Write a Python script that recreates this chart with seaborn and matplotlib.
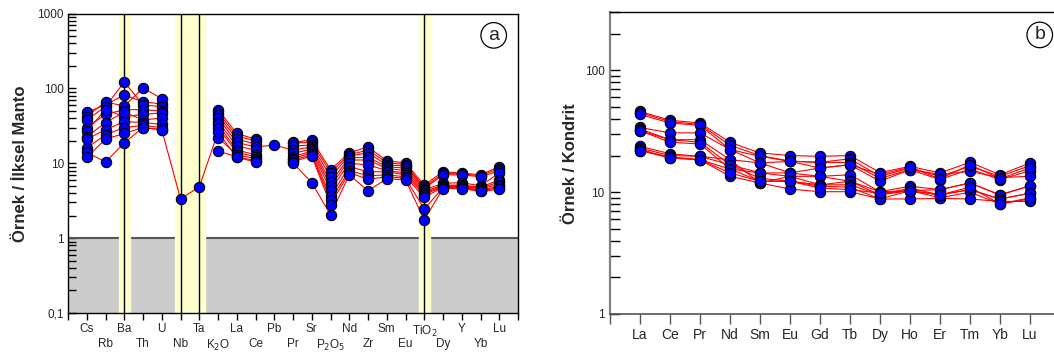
import numpy as np
import pandas as pd
import matplotlib
matplotlib.use("Agg")
import matplotlib.pyplot as plt
import matplotlib.ticker as mticker
import seaborn as sns

sns.set_style("white")
plt.rcParams['font.family'] = ['Liberation Sans', 'DejaVu Sans']

# --- primitive mantle normalised spider data (panel a) ---
pm_elements = ["Cs", "Rb", "Ba", "Th", "U", "Nb", "Ta", "K$_2$O", "La", "Ce", "Pb", "Pr",
               "Sr", "P$_2$O$_5$", "Nd", "Zr", "Sm", "Eu", "TiO$_2$", "Dy", "Y", "Yb", "Lu"]
nan = np.nan
pm_cs = [48, 42, 38, 30, 27, 22.5, 21, 16, 14, 12]
pm_rb = [60, 66, 57, 45, 52, 35, 28, 24, 10.4, 21]
pm_ba = [82, 58, 122, 52, 42, 48, 36, 30, 18.7, 25]
pm_th = [66, 101, 60, 52, 45, 38, 35, 32, 30, 30]
pm_u = [62, 73, 57, 50, 47, 40, 33, 30, 28, 28]
pm_nb = [nan, nan, nan, nan, nan, nan, nan, nan, nan, 3.35]
pm_ta = [nan, nan, nan, nan, nan, nan, nan, nan, nan, 4.8]
pm_k2o = [52, 48, 44, 40, 36, 33, 30, 22, 14.6, 26]
pm_la = [25, 23, 21, 19, 17, 15, 14, 13, 12.2, 12]
pm_ce = [21, 20, 18, 16.5, 15, 13, 12.2, 11.5, 10.8, 10.4]
pm_pb = [nan, nan, nan, 17.5, nan, nan, nan, nan, nan, nan]
pm_pr = [19, 18.7, 17, 15, 13.5, 12.2, 11.5, 11, 10.5, 10.1]
pm_sr = [20.5, 19, 17.5, 16.5, 15.5, 14.5, 13.8, 13, 12.5, 5.5]
pm_p2o5 = [8.2, 7.5, 6.6, 5.6, 5.0, 4.4, 3.6, 3.2, 2.8, 2.05]
pm_nd = [13.8, 13, 12.5, 11.8, 11, 10, 9, 8, 7.5, 7]
pm_zr = [16.5, 15, 13.8, 12, 11.1, 9.5, 7.7, 6.8, 6.1, 4.3]
pm_sm = [10.8, 10.2, 9.5, 9, 8.5, 8, 7.7, 7, 6.6, 6.2]
pm_eu = [10.1, 9.6, 9.2, 8.6, 8, 7.4, 7, 6.6, 6.3, 6]
pm_tio2 = [5.1, 4.8, 4.6, 4.4, 4.2, 4.0, 3.8, 3.5, 2.45, 1.75]
pm_dy = [7.7, 7.3, 7.0, 5.4, 5.1, 5.0, 4.9, 4.8, 4.7, 4.6]
pm_y = [7.4, 7.2, 7.0, 5.5, 5.1, 5.0, 4.9, 4.8, 4.7, 4.6]
pm_yb = [7.0, 6.8, 6.6, 5.0, 4.8, 4.7, 4.6, 4.4, 4.3, 4.2]
pm_lu = [9.0, 8.5, 7.9, 7.4, 6.0, 5.6, 5.2, 4.9, 4.7, 4.5]
pm_values = [pm_cs, pm_rb, pm_ba, pm_th, pm_u, pm_nb, pm_ta, pm_k2o, pm_la, pm_ce, pm_pb,
             pm_pr, pm_sr, pm_p2o5, pm_nd, pm_zr, pm_sm, pm_eu, pm_tio2, pm_dy, pm_y,
             pm_yb, pm_lu]
pm_yticks = [0.1, 1, 10, 100, 1000]
pm_yticklabels = ["0,1", "1", "10", "100", "1000"]
pm_bands = ["Ba", "Nb", "Ta", "TiO$_2$"]

# --- chondrite normalised REE data (panel b) ---
ree_elements = ["La", "Ce", "Pr", "Nd", "Sm", "Eu", "Gd", "Tb", "Dy", "Ho", "Er", "Tm", "Yb", "Lu"]
ree_samples = [
    [46, 39, 37, 25.7, 21, 20, 19.7, 20, 14.5, 16.3, 14.4, 17.6, 13.9, 17.4],
    [45, 38, 36, 24.3, 20, 18, 17.6, 18.8, 13.5, 15.8, 13.5, 16.3, 13.5, 16.5],
    [43.5, 37, 35.4, 22.4, 19.7, 17.9, 17.6, 17.5, 13.0, 15.3, 12.7, 15.5, 12.7, 15.0],
    [34, 30.7, 30.7, 22.4, 17.4, 17.9, 15.8, 16.8, 12.3, 15.3, 14.0, 14.8, 13.2, 13.5],
    [33, 27, 27, 18.5, 17.4, 14.4, 15.8, 16.8, 14.0, 16.0, 12.9, 16.8, 12.9, 15.8],
    [32, 27, 25.7, 16.8, 14.4, 13.5, 13.5, 13.9, 10.1, 11.2, 10.5, 11.9, 9.5, 11.3],
    [32, 25.7, 24.9, 15.5, 14.4, 14.4, 13.5, 12.3, 9.5, 10.3, 9.5, 10.5, 8.8, 9.8],
    [23.8, 20.7, 19.7, 18.5, 11.9, 13.5, 11.5, 12.3, 10.1, 10.3, 10.5, 11.9, 9.5, 11.3],
    [23, 20, 19.7, 16.8, 13.0, 12.3, 11.5, 11.5, 9.5, 10.8, 9.5, 10.5, 8.8, 9.8],
    [22.5, 19.1, 18.5, 15.5, 12.3, 12.3, 11.2, 11.0, 8.8, 10.3, 9.0, 10.0, 8.0, 8.8],
    [22, 19.5, 18.5, 13.5, 11.9, 10.6, 10.1, 10.1, 8.8, 8.8, 8.9, 8.8, 8.4, 8.4],
    [22, 19.1, 18.5, 14.4, 12.3, 12.3, 10.8, 10.5, 9.8, 10.3, 9.5, 11.0, 8.0, 9.0],
]
ree_yticks = [1, 10, 100]


def long_table(elements, matrix):
    # matrix: rows = samples, cols = elements; NaN breaks the line
    rows = []
    for s, vals in enumerate(matrix):
        seg = 0
        for i, v in enumerate(vals):
            if np.isnan(v):
                seg += 1
                continue
            rows.append({"sample": s, "unit": f"{s}_{seg}", "pos": i + 1,
                         "element": elements[i], "value": v})
    return pd.DataFrame(rows)


def draw_spider(ax, df):
    sns.lineplot(data=df, x="pos", y="value", units="unit", estimator=None, sort=False,
                 color="red", lw=0.8, ax=ax, legend=False, zorder=3)
    sns.scatterplot(data=df, x="pos", y="value", color="#0000ff", edgecolor="black",
                    linewidth=0.8, s=55, ax=ax, legend=False, zorder=4)
    ax.set_xlabel("")


fig = plt.figure(figsize=(10.54, 3.62), dpi=100)

# ---------------- panel a ----------------
ax1 = fig.add_axes([68 / 1054, 1 - 313 / 362, 450 / 1054, 299.5 / 362])
pm_matrix = np.array(pm_values, dtype=float).T
df_pm = long_table(pm_elements, pm_matrix)

ax1.set_yscale("log")
ax1.set_xlim(0, len(pm_elements) + 1)
ax1.set_ylim(0.1, 1000)
ax1.axhspan(0.1, 1, color="#cccccc", zorder=0)
ax1.axhline(1, color="#555555", lw=1.5, zorder=1)
for name in pm_bands:
    xp = pm_elements.index(name) + 1
    ax1.axvline(xp, color="black", lw=1.0, zorder=2)
nb, ta = pm_elements.index("Nb") + 1, pm_elements.index("Ta") + 1
ax1.axvspan(nb - 0.28, ta + 0.32, color="#ffffcc", zorder=1.5)
for name in ["Ba", "TiO$_2$"]:
    xp = pm_elements.index(name) + 1
    ax1.axvspan(xp - 0.28, xp + 0.3, color="#ffffcc", zorder=1.5)

draw_spider(ax1, df_pm)

ax1.set_xticks(range(0, len(pm_elements) + 2))
ax1.set_xticklabels([""] + pm_elements + [""], fontsize=8.5)
for i, tick in enumerate(ax1.xaxis.get_major_ticks()):
    tick.set_pad(13 if i % 2 == 0 else 2.5)
ax1.tick_params(axis="x", bottom=True, direction="out", length=5, width=1, color="black")
ax1.yaxis.set_major_locator(mticker.FixedLocator(pm_yticks))
ax1.set_yticklabels(pm_yticklabels, fontsize=8.5)
ax1.yaxis.set_minor_locator(mticker.LogLocator(base=10, subs=np.arange(2, 10)))
ax1.yaxis.set_minor_formatter(mticker.NullFormatter())
ax1.tick_params(axis="y", which="both", left=True, direction="in", length=6, width=1,
                color="black", pad=3)
ax1.set_ylabel("Örnek / İlksel Manto", fontsize=12, fontweight="bold", labelpad=7)
for sp in ax1.spines.values():
    sp.set_color("black")
    sp.set_linewidth(1.0)
ax1.text(0.946, 0.927, "a", transform=ax1.transAxes, ha="center", va="center", fontsize=14,
         bbox=dict(boxstyle="circle,pad=0.22", fc="white", ec="black", lw=0.9), zorder=6)

# ---------------- panel b ----------------
ax2 = fig.add_axes([610 / 1054, 1 - 314 / 362, 450 / 1054, 301.7 / 362])
df_ree = long_table(ree_elements, np.array(ree_samples, dtype=float))
ax2.set_yscale("log")
ax2.set_xlim(0, len(ree_elements) + 1)
ax2.set_ylim(1, 300)
draw_spider(ax2, df_ree)

ax2.set_xticks(range(0, len(ree_elements) + 1))
ax2.set_xticklabels([""] + ree_elements, fontsize=10)
ax2.tick_params(axis="x", bottom=True, direction="out", length=7, width=1, color="#555555", pad=3)
ax2.yaxis.set_major_locator(mticker.FixedLocator(ree_yticks))
ax2.set_yticklabels([str(v) for v in ree_yticks], fontsize=8.5)
ax2.yaxis.set_minor_locator(mticker.LogLocator(base=10, subs=np.arange(2, 10)))
ax2.yaxis.set_minor_formatter(mticker.NullFormatter())
ax2.tick_params(axis="y", which="both", left=True, direction="in", length=7, width=1,
                color="black", pad=4)
ax2.set_ylabel("Örnek / Kondrit", fontsize=12, fontweight="bold", labelpad=5)
ax2.spines["left"].set_color("#808080")
ax2.spines["left"].set_linewidth(1.6)
ax2.spines["bottom"].set_color("#555555")
ax2.spines["bottom"].set_linewidth(1.2)
ax2.spines["top"].set_color("black")
ax2.spines["top"].set_linewidth(1.0)
ax2.text(0.955, 0.925, "b", transform=ax2.transAxes, ha="center", va="center", fontsize=14,
         bbox=dict(boxstyle="circle,pad=0.22", fc="white", ec="black", lw=0.9), zorder=6)

fig.savefig("out.png", dpi=100)
